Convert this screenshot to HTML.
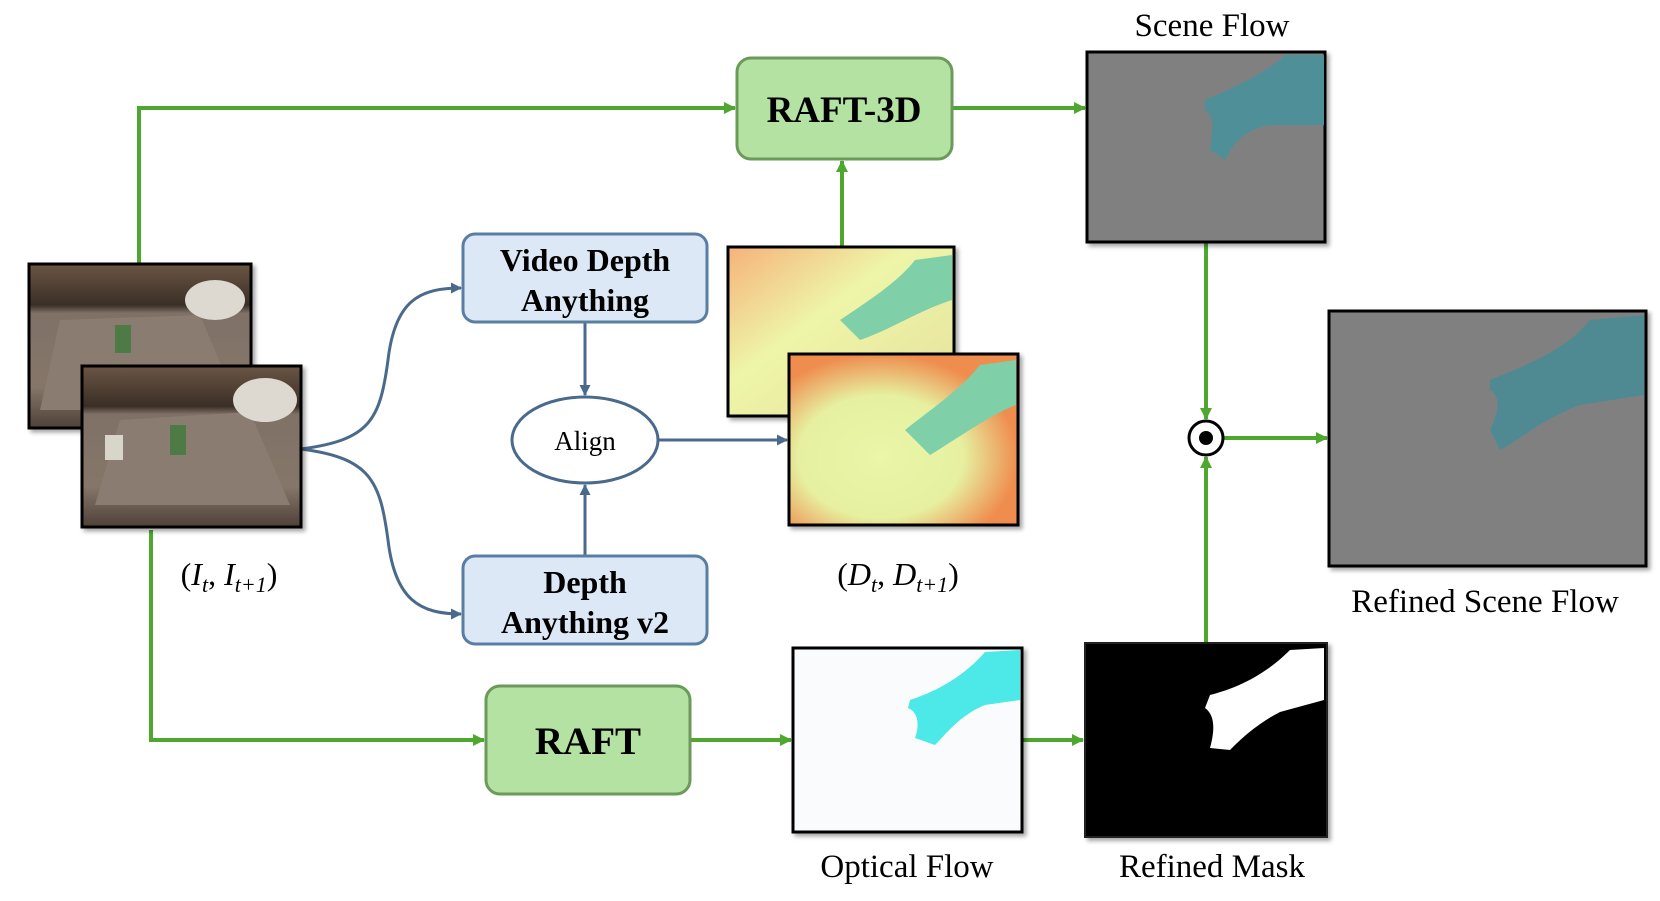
<!DOCTYPE html>
<html><head><meta charset="utf-8"><style>
html,body{margin:0;padding:0;background:#fff;}
svg{display:block;}
text{font-family:"Liberation Serif",serif;}
</style></head><body>
<svg width="1660" height="901" viewBox="0 0 1660 901" xmlns="http://www.w3.org/2000/svg">
<defs>
<marker id="ga" markerWidth="12" markerHeight="12" refX="11" refY="6" orient="auto" markerUnits="userSpaceOnUse"><path d="M0,0 L12,6 L0,12 z" fill="#4ea72e"/></marker>
<marker id="ba" markerWidth="11" markerHeight="11" refX="10" refY="5.5" orient="auto" markerUnits="userSpaceOnUse"><path d="M0,0 L11,5.5 L0,11 z" fill="#4a6a8c"/></marker>
<linearGradient id="dep" x1="0" y1="0" x2="1" y2="1">
<stop offset="0" stop-color="#f6b27a"/><stop offset="0.4" stop-color="#eef5a8"/><stop offset="0.8" stop-color="#e9e7a0"/><stop offset="1" stop-color="#ee8a50"/></linearGradient>
<radialGradient id="dep2" cx="0.4" cy="0.6" r="0.6"><stop offset="0" stop-color="#eaf6a8"/><stop offset="0.6" stop-color="#e6f0a0"/><stop offset="1" stop-color="#ef8d4f"/></radialGradient>
<linearGradient id="photo" x1="0" y1="0" x2="0" y2="1"><stop offset="0" stop-color="#6b5644"/><stop offset="0.25" stop-color="#3a2e26"/><stop offset="0.3" stop-color="#7f7166"/><stop offset="0.75" stop-color="#857669"/><stop offset="1" stop-color="#4f4138"/></linearGradient>
<filter id="sh"><feDropShadow dx="3" dy="3" stdDeviation="2" flood-opacity="0.35"/></filter>
</defs>

<g stroke="#4ea72e" stroke-width="4" fill="none">
<polyline points="139,264 139,108 735,108" marker-end="url(#ga)"/>
<polyline points="151,530 151,740 484,740" marker-end="url(#ga)"/>
<line x1="952" y1="108" x2="1085" y2="108" marker-end="url(#ga)"/>
<line x1="842" y1="247" x2="842" y2="161" marker-end="url(#ga)"/>
<line x1="690" y1="740" x2="791" y2="740" marker-end="url(#ga)"/>
<line x1="1022" y1="740" x2="1083" y2="740" marker-end="url(#ga)"/>
<line x1="1206" y1="242" x2="1206" y2="419" marker-end="url(#ga)"/>
<line x1="1206" y1="643" x2="1206" y2="457" marker-end="url(#ga)"/>
<line x1="1224" y1="438" x2="1327" y2="438" marker-end="url(#ga)"/>
</g>

<g stroke="#4a6a8c" stroke-width="3" fill="none">
<path d="M301,449 C370,440 380,420 388,360 C395,300 420,288 461,288" marker-end="url(#ba)"/>
<path d="M301,449 C370,458 380,480 388,540 C395,600 420,614 461,614" marker-end="url(#ba)"/>
<line x1="585" y1="322" x2="585" y2="395" marker-end="url(#ba)"/>
<line x1="585" y1="556" x2="585" y2="485" marker-end="url(#ba)"/>
<line x1="658" y1="440" x2="787" y2="440" marker-end="url(#ba)"/>
</g>

<g filter="url(#sh)">
<rect x="29" y="264" width="222" height="164" fill="url(#photo)" stroke="#000" stroke-width="3"/>
<polygon points="60,320 200,315 240,410 40,410" fill="#8a7c70"/>
<ellipse cx="215" cy="300" rx="30" ry="20" fill="#ddd8d0"/>
<rect x="115" y="325" width="16" height="28" fill="#4d7a45"/>
<rect x="82" y="366" width="219" height="161" fill="url(#photo)" stroke="#000" stroke-width="3"/>
<polygon points="120,420 250,412 290,505 95,505" fill="#8a7c70"/>
<ellipse cx="265" cy="400" rx="32" ry="22" fill="#ddd8d0"/>
<rect x="170" y="425" width="16" height="30" fill="#4d7a45"/>
<rect x="105" y="435" width="18" height="25" fill="#d8d6c8"/>
</g>

<rect x="737" y="58" width="215" height="101" rx="14" fill="#b3e2a2" stroke="#6b9a5a" stroke-width="3"/>
<text x="844" y="122" font-size="37" font-weight="bold" text-anchor="middle">RAFT-3D</text>
<rect x="463" y="234" width="244" height="88" rx="12" fill="#dce8f5" stroke="#5a7ea3" stroke-width="3"/>
<text x="585" y="271" font-size="32" font-weight="bold" text-anchor="middle">Video Depth</text>
<text x="585" y="311" font-size="32" font-weight="bold" text-anchor="middle">Anything</text>
<ellipse cx="585" cy="440" rx="73" ry="43" fill="#fff" stroke="#4a6a8c" stroke-width="3"/>
<text x="585" y="450" font-size="27" text-anchor="middle">Align</text>
<rect x="463" y="556" width="244" height="88" rx="12" fill="#dce8f5" stroke="#5a7ea3" stroke-width="3"/>
<text x="585" y="593" font-size="32" font-weight="bold" text-anchor="middle">Depth</text>
<text x="585" y="633" font-size="32" font-weight="bold" text-anchor="middle">Anything v2</text>
<rect x="486" y="686" width="204" height="108" rx="14" fill="#b3e2a2" stroke="#6b9a5a" stroke-width="3"/>
<text x="588" y="754" font-size="39" font-weight="bold" text-anchor="middle">RAFT</text>

<g filter="url(#sh)">
<rect x="728" y="247" width="226" height="169" fill="url(#dep)" stroke="#000" stroke-width="3"/>
<path d="M840,320 C870,300 900,280 915,260 L952,255 L952,300 C920,310 890,330 860,340 Z" fill="#7fcfa8"/>
<rect x="789" y="354" width="229" height="171" fill="url(#dep2)" stroke="#000" stroke-width="3"/>
<path d="M905,430 C930,410 960,390 980,365 L1016,360 L1016,405 C990,415 955,440 930,455 Z" fill="#7fcfa8"/>
</g>

<g filter="url(#sh)">
<rect x="1087" y="52" width="238" height="190" fill="#808080" stroke="#000" stroke-width="3"/>
<path d="M1205,100 C1240,85 1270,70 1285,55 L1324,55 L1324,125 L1270,125 C1240,130 1230,150 1225,160 L1210,150 C1212,130 1215,115 1205,110 Z" fill="#4f8f98"/>
<rect x="1329" y="311" width="317" height="255" fill="#808080" stroke="#000" stroke-width="3"/>
<path d="M1490,380 C1540,360 1570,345 1590,320 L1644,315 L1644,395 L1580,405 C1540,420 1520,440 1500,450 L1490,430 C1500,410 1500,395 1490,390 Z" fill="#4f8a92"/>
<rect x="793" y="648" width="229" height="184" fill="#fafbfc" stroke="#000" stroke-width="3"/>
<path d="M910,700 C940,690 965,675 985,652 L1020,650 L1020,700 L985,705 C960,715 945,735 935,745 L915,738 C920,725 918,712 908,708 Z" fill="#4ee8e8"/>
<rect x="1085" y="643" width="242" height="194" fill="#000" stroke="#222" stroke-width="2"/>
<path d="M1210,695 C1250,685 1275,665 1290,650 L1324,648 L1324,700 L1280,712 C1255,725 1240,740 1230,750 L1210,748 C1215,730 1215,715 1205,708 Z" fill="#fff"/>
</g>

<circle cx="1206" cy="438" r="17" fill="#fff" stroke="#000" stroke-width="3"/>
<circle cx="1206" cy="438" r="7" fill="#000"/>

<g font-size="33" text-anchor="middle">
<text x="1212" y="36">Scene Flow</text>
<text x="1485" y="612">Refined Scene Flow</text>
<text x="907" y="877">Optical Flow</text>
<text x="1212" y="877">Refined Mask</text>
<text x="229" y="585" font-size="32">(<tspan font-style="italic">I</tspan><tspan font-size="22" font-style="italic" dy="7">t</tspan><tspan dy="-7">, </tspan><tspan font-style="italic">I</tspan><tspan font-size="22" font-style="italic" dy="7">t+1</tspan><tspan dy="-7">)</tspan></text>
<text x="898" y="585" font-size="32">(<tspan font-style="italic">D</tspan><tspan font-size="22" font-style="italic" dy="7">t</tspan><tspan dy="-7">, </tspan><tspan font-style="italic">D</tspan><tspan font-size="22" font-style="italic" dy="7">t+1</tspan><tspan dy="-7">)</tspan></text>
</g>
</svg>
</body></html>
